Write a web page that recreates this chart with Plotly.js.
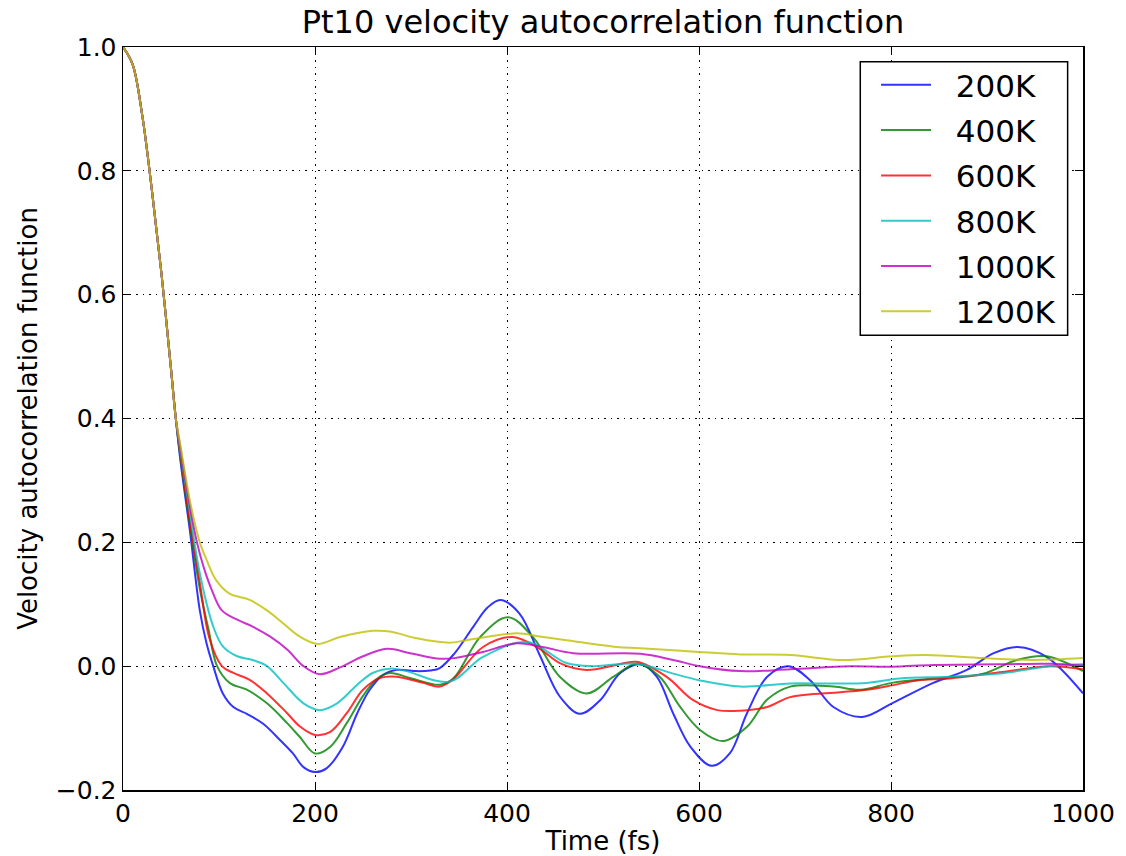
<!DOCTYPE html>
<html>
<head>
<meta charset="utf-8">
<script src="https://cdn.plot.ly/plotly-3.0.1.min.js"></script>
<style>html,body{margin:0;padding:0;background:#fff;}#chart{width:1126px;height:856px;}</style>
</head>
<body>
<div id="chart"></div>
<script>
// Shared initial decay (all temperatures overlap here)
const tStart = [0, 10, 20, 30, 40, 50, 55];
const vStart = [1.0, 0.972, 0.89, 0.77, 0.635, 0.48, 0.40];

const t200 = [60, 70, 80, 87, 94, 104, 115, 129, 146, 164, 177, 188, 200, 212, 229, 244, 257, 271, 285, 306, 320, 330, 345, 365, 380, 393, 413, 434, 455, 476, 497, 518, 539, 556, 573, 591, 613, 632, 650, 671, 693, 716, 740, 770, 801, 844, 879, 907, 932, 962, 1000];
const v200 = [0.33, 0.215, 0.09, 0.037, 0.0, -0.044, -0.066, -0.077, -0.093, -0.12, -0.141, -0.163, -0.171, -0.165, -0.13, -0.076, -0.038, -0.014, -0.006, -0.008, -0.007, -0.003, 0.02, 0.064, 0.095, 0.107, 0.085, 0.018, -0.049, -0.077, -0.055, -0.011, 0.003, -0.017, -0.076, -0.13, -0.161, -0.141, -0.076, -0.017, 0.0, -0.023, -0.066, -0.082, -0.06, -0.027, -0.006, 0.021, 0.031, 0.015, -0.044];

const t400 = [60, 70, 80, 89, 98, 111, 129, 150, 171, 184, 200, 216, 233, 250, 264, 278, 299, 330, 344, 372, 401, 427, 455, 483, 511, 535, 559, 580, 601, 625, 650, 671, 695, 740, 768, 801, 844, 896, 931, 962, 1000];
const v400 = [0.335, 0.225, 0.125, 0.06, 0.0, -0.027, -0.038, -0.06, -0.092, -0.114, -0.141, -0.13, -0.092, -0.048, -0.021, -0.011, -0.019, -0.03, -0.02, 0.047, 0.079, 0.047, -0.017, -0.044, -0.017, 0.004, -0.017, -0.065, -0.103, -0.121, -0.098, -0.054, -0.033, -0.033, -0.038, -0.027, -0.02, -0.012, 0.01, 0.016, -0.008];

const t600 = [60, 70, 80, 90, 103, 115, 132, 150, 171, 184, 200, 216, 233, 250, 268, 285, 313, 330, 344, 375, 406, 434, 455, 483, 514, 535, 566, 594, 619, 643, 671, 695, 747, 775, 801, 827, 861, 913, 965, 1000];
const v600 = [0.34, 0.23, 0.135, 0.045, 0.0, -0.011, -0.022, -0.044, -0.076, -0.097, -0.111, -0.106, -0.076, -0.038, -0.019, -0.017, -0.027, -0.033, -0.021, 0.031, 0.047, 0.028, 0.005, -0.006, 0.002, 0.007, -0.017, -0.055, -0.071, -0.072, -0.066, -0.05, -0.042, -0.038, -0.031, -0.023, -0.02, -0.01, 0.0, -0.005];

const t800 = [60, 70, 80, 94, 104, 119, 135, 150, 167, 188, 205, 223, 244, 260, 278, 295, 340, 375, 421, 462, 490, 535, 573, 601, 643, 695, 740, 775, 809, 861, 913, 965, 1000];
const v800 = [0.345, 0.245, 0.15, 0.064, 0.032, 0.016, 0.01, 0.0, -0.027, -0.06, -0.071, -0.06, -0.03, -0.011, -0.004, -0.008, -0.025, 0.015, 0.039, 0.005, 0.0, 0.004, -0.012, -0.023, -0.033, -0.028, -0.028, -0.027, -0.02, -0.017, -0.012, 0.0, 0.003];

const t1000 = [60, 70, 77, 84, 92, 103, 119, 135, 153, 171, 188, 205, 226, 250, 275, 299, 330, 345, 375, 410, 440, 469, 539, 573, 601, 643, 695, 757, 801, 844, 913, 965, 1000];
const v1000 = [0.35, 0.255, 0.20, 0.16, 0.125, 0.09, 0.075, 0.064, 0.048, 0.027, 0.0, -0.013, -0.002, 0.016, 0.028, 0.021, 0.012, 0.013, 0.023, 0.037, 0.03, 0.021, 0.02, 0.01, 0.0, -0.008, -0.005, 0.0, -0.001, 0.002, 0.003, 0.004, 0.001];

const t1200 = [60, 70, 80, 87, 97, 111, 132, 150, 167, 184, 203, 226, 260, 278, 306, 340, 358, 410, 434, 462, 514, 539, 600, 643, 695, 750, 801, 837, 896, 948, 1000];
const v1200 = [0.355, 0.265, 0.20, 0.172, 0.139, 0.117, 0.107, 0.09, 0.069, 0.048, 0.036, 0.047, 0.057, 0.056, 0.045, 0.038, 0.042, 0.053, 0.048, 0.042, 0.031, 0.029, 0.023, 0.019, 0.018, 0.01, 0.016, 0.018, 0.013, 0.01, 0.013];

const seriesNames = ['200K', '400K', '600K', '800K', '1000K', '1200K'];
const seriesColors = ['#0000ff', '#008000', '#ff0000', '#00bfbf', '#bf00bf', '#bfbf00'];
const seriesT = [t200, t400, t600, t800, t1000, t1200];
const seriesV = [v200, v400, v600, v800, v1000, v1200];

const xTickVals = [0, 200, 400, 600, 800, 1000];
const yTickVals = [-0.2, 0.0, 0.2, 0.4, 0.6, 0.8, 1.0];

const FONT = '"DejaVu Sans", "Bitstream Vera Sans", sans-serif';
const NB = '\u00a0\u00a0';

const traces = seriesNames.map((name, i) => ({
  type: 'scatter',
  mode: 'lines',
  name: NB + name,
  legendgroup: name,
  x: tStart.concat(seriesT[i]),
  y: vStart.concat(seriesV[i]),
  line: {color: seriesColors[i], width: 2, shape: 'spline', smoothing: 1.0},
  opacity: 0.8
}));

const axisCommon = {
  showline: true,
  linecolor: '#000',
  linewidth: 1.5,
  mirror: 'allticks',
  ticks: 'inside',
  ticklen: 8,
  tickwidth: 1,
  tickcolor: '#000',
  showgrid: true,
  gridcolor: '#000',
  gridwidth: 1,
  griddash: '1.5px,5px',
  zeroline: false,
  tickfont: {family: FONT, size: 25, color: '#000'}
};

const layout = {
  width: 1126,
  height: 856,
  margin: {l: 123, r: 43, t: 47, b: 66},
  paper_bgcolor: '#fff',
  plot_bgcolor: '#fff',
  showlegend: true,
  title: {
    text: 'Pt10 velocity autocorrelation function',
    font: {family: FONT, size: 32, color: '#000'},
    x: 0.5, xref: 'paper', xanchor: 'center',
    y: 0.974, yref: 'container', yanchor: 'middle'
  },
  xaxis: Object.assign({}, axisCommon, {
    range: [0, 1000],
    tickvals: xTickVals,
    ticktext: xTickVals.map(v => String(v)),
    title: {text: 'Time (fs)', font: {family: FONT, size: 26, color: '#000'}, standoff: 9}
  }),
  yaxis: Object.assign({}, axisCommon, {
    range: [-0.2, 1.0],
    tickvals: yTickVals,
    tickformat: '.1f',
    title: {text: 'Velocity autocorrelation function', font: {family: FONT, size: 26, color: '#000'}, standoff: 10}
  }),
  shapes: [{
    type: 'rect', xref: 'paper', yref: 'paper', layer: 'above',
    x0: 0.768, x1: 0.984, y0: 0.612, y1: 0.980,
    line: {color: '#000', width: 1.5},
    fillcolor: '#fff'
  }],
  legend: {
    x: 0.7844, y: 0.985, xanchor: 'left', yanchor: 'top',
    bgcolor: 'rgba(0,0,0,0)',
    borderwidth: 0,
    font: {family: FONT, size: 31, color: '#000'},
    tracegroupgap: 2,
    itemwidth: 50
  }
};

Plotly.newPlot('chart', traces, layout, {displayModeBar: false, staticPlot: true});
</script>
</body>
</html>
